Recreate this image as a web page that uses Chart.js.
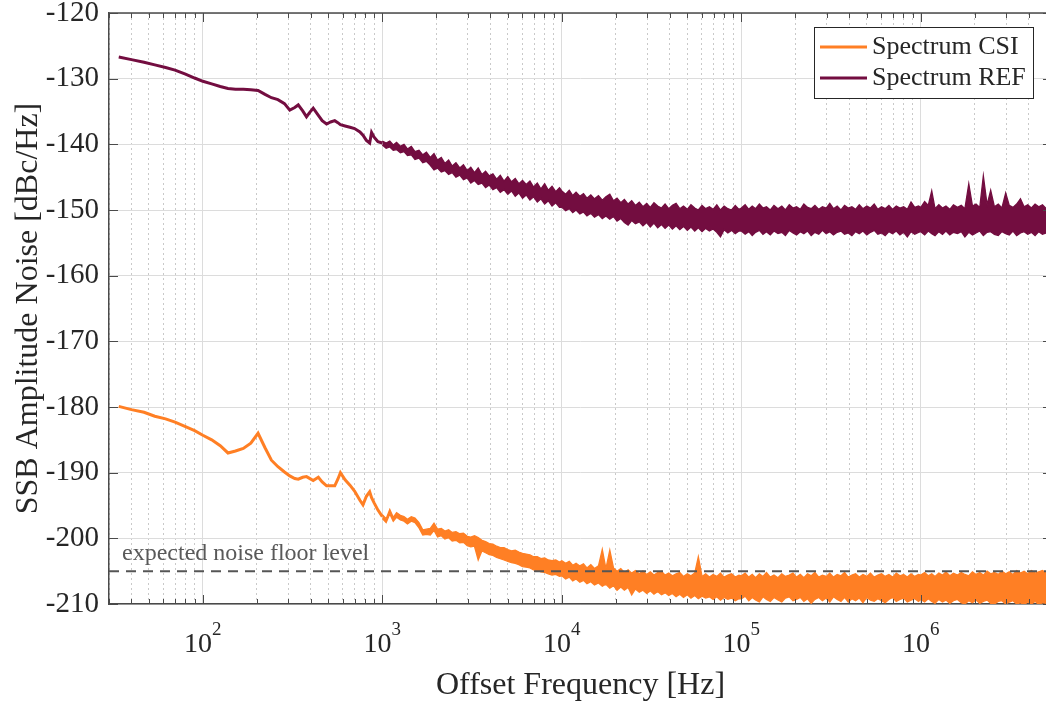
<!DOCTYPE html>
<html>
<head>
<meta charset="utf-8">
<title>SSB Amplitude Noise</title>
<script src="https://cdn.jsdelivr.net/npm/chart.js@4.4.1/dist/chart.umd.min.js"></script>
<style>
  html, body { margin: 0; padding: 0; background: #fff; overflow: hidden; }
  #wrap { width: 1060px; height: 704px; }
</style>
</head>
<body>
<div id="wrap"><canvas id="noiseChart" width="1060" height="704"></canvas></div>
<script>
// values (offset frequency in Hz, noise in dBc/Hz)

// smooth low-frequency part, drawn as a single trace
const traceFreqHz = [
  34, 40, 47, 54, 62, 70, 80, 90, 100, 112,
  125, 138, 152, 168, 185, 203, 222, 241, 262, 285,
  305, 325, 340, 360, 378, 395, 412, 440, 462, 489,
  515, 543, 565, 584, 620, 660, 700, 750, 780, 815,
  850, 871, 900, 945, 1000
];
const refTraceDb = [
  -126.7, -127.1, -127.5, -127.9, -128.3, -128.7, -129.3, -129.9, -130.4, -130.8,
  -131.2, -131.5, -131.6, -131.6, -131.7, -131.8, -132.4, -132.9, -133.2, -133.8,
  -134.8, -134.4, -134.0, -134.9, -135.8, -135.1, -134.5, -135.6, -136.4, -136.9,
  -136.6, -136.4, -136.7, -137.0, -137.2, -137.4, -137.6, -138.1, -138.6, -139.4,
  -139.8, -138.2, -138.9, -139.6, -139.8
];
const csiTraceDb = [
  -179.9, -180.4, -180.8, -181.4, -181.8, -182.3, -183.0, -183.6, -184.3, -185.0,
  -185.9, -187.0, -186.7, -186.3, -185.5, -184.0, -186.2, -188.1, -189.1, -189.9,
  -190.5, -190.9, -191.0, -190.7, -190.6, -190.9, -191.2, -190.7, -191.4, -192.0,
  -192.0, -192.0, -191.0, -190.0, -191.1, -191.9, -192.8, -194.2, -194.9, -193.6,
  -192.9, -193.8, -194.6, -195.7, -196.7
];

// noisy part above 1 kHz: upper and lower edge of the band
const bandFreqHz = [
  1000, 1050, 1100, 1150, 1200, 1260, 1320, 1380, 1450, 1520,
  1600, 1680, 1760, 1850, 1940, 2030, 2130, 2230, 2340, 2450,
  2570, 2700, 2830, 2970, 3110, 3260, 3420, 3590, 3760, 3940,
  4130, 4330, 4540, 4760, 5000, 5240, 5500, 5760, 6040, 6330,
  6640, 6960, 7300, 7650, 8020, 8410, 8820, 9250, 9700,
  10000, 10500, 11000, 11500, 12000, 12600, 13200, 13800, 14500, 15200,
  16000, 16800, 17600, 18500, 19400, 20300, 21300, 22300, 23400, 24500,
  25700, 27000, 28300, 29700, 31100, 32600, 34200, 35900, 37600, 39400,
  41300, 43300, 45400, 47600, 50000, 52400, 55000, 57600, 60400, 63300,
  66400, 69600, 73000, 76500, 80200, 84100, 88200, 92500, 97000,
  100000, 105000, 110000, 115000, 120000, 126000, 132000, 138000, 145000, 152000,
  160000, 168000, 176000, 185000, 194000, 203000, 213000, 223000, 234000, 245000,
  257000, 270000, 283000, 297000, 311000, 326000, 342000, 359000, 376000, 394000,
  413000, 433000, 454000, 476000, 500000, 524000, 550000, 576000, 604000, 633000,
  664000, 696000, 730000, 765000, 802000, 841000, 882000, 925000, 970000,
  1.00e6, 1.05e6, 1.10e6, 1.15e6, 1.20e6, 1.26e6, 1.32e6, 1.38e6, 1.45e6, 1.52e6,
  1.60e6, 1.68e6, 1.76e6, 1.85e6, 1.94e6, 2.03e6, 2.13e6, 2.23e6, 2.34e6, 2.45e6,
  2.57e6, 2.70e6, 2.83e6, 2.97e6, 3.11e6, 3.26e6, 3.42e6, 3.59e6, 3.76e6, 3.94e6,
  4.13e6, 4.33e6, 4.54e6, 4.76e6, 5.00e6, 5.24e6, 5.50e6
];

const refUpperDb = [
  -139.5, -139.8, -139.5, -140.1, -139.7, -140.3, -140.0, -140.7, -140.3, -141.1,
  -140.9, -141.6, -141.2, -142.0, -141.4, -142.4, -142.0, -142.9, -142.4, -143.3,
  -142.8, -143.6, -143.1, -144.0, -143.5, -144.3, -143.6, -144.6, -144.1, -144.8,
  -144.5, -145.3, -144.7, -145.6, -144.9, -145.7, -145.2, -146.0, -145.5, -146.1,
  -145.6, -146.5, -145.9, -146.8, -146.0, -147.0, -146.4, -147.2, -146.6,
  -147.1, -147.6, -147.0, -147.8, -147.3, -147.9, -147.5, -148.2, -147.7, -148.3,
  -147.8, -148.5, -148.0, -147.6, -148.6, -148.2, -148.9, -148.4, -149.1, -148.6,
  -149.3, -148.8, -149.5, -149.0, -149.6, -148.9, -149.4, -149.7, -149.1, -149.8,
  -149.3, -149.0, -149.8, -149.4, -149.9, -149.2, -149.7, -150.0, -149.3, -149.8,
  -149.5, -149.9, -149.2, -150.0, -149.4, -149.8, -150.0, -149.3, -149.9,
  -149.7, -149.2, -149.9, -149.4, -149.8, -149.1, -149.7, -149.5, -150.0, -149.3,
  -149.8, -149.4, -150.0, -149.2, -149.7, -149.5, -149.9, -149.1, -149.6, -149.8,
  -149.3, -149.9, -149.5, -149.7, -149.0, -149.8, -149.4, -150.0, -149.3, -149.7,
  -149.5, -149.9, -149.2, -149.8, -149.4, -149.7, -149.1, -149.9, -149.5, -149.8,
  -149.3, -149.9, -149.4, -149.7, -149.5, -149.9, -148.8, -149.6, -149.4,
  -149.6, -148.7, -149.3, -147.1, -149.8, -149.2, -149.7, -149.4, -149.9, -149.2,
  -149.6, -149.3, -149.8, -146.0, -149.4, -149.1, -149.6, -144.8, -149.2, -147.0,
  -149.5, -149.1, -149.7, -147.4, -149.3, -149.6, -149.1, -148.3, -149.5, -149.2,
  -149.7, -149.1, -149.5, -149.2, -149.8, -149.3, -149.5
];
const refLowerDb = [
  -140.1, -140.6, -140.4, -140.9, -140.8, -141.3, -141.1, -141.7, -141.6, -142.3,
  -142.1, -142.8, -142.6, -143.2, -143.9, -143.6, -144.2, -144.0, -144.6, -144.3,
  -145.0, -144.7, -145.4, -145.1, -145.9, -145.5, -146.1, -145.9, -146.6, -146.2,
  -146.9, -146.6, -147.3, -146.9, -147.6, -147.1, -147.9, -147.4, -148.2, -147.7,
  -148.5, -148.0, -148.8, -148.3, -149.1, -148.6, -149.4, -148.9, -149.6,
  -149.6, -150.1, -149.8, -150.4, -150.0, -150.6, -150.3, -150.9, -150.5, -151.1,
  -150.7, -151.3, -150.9, -151.4, -151.0, -151.7, -151.3, -151.9, -152.3, -151.6,
  -152.1, -151.8, -152.4, -151.9, -152.6, -152.0, -152.7, -152.2, -152.8, -152.3,
  -152.9, -152.4, -153.0, -152.5, -153.1, -152.6, -153.2, -152.7, -153.3, -152.8,
  -153.2, -152.9, -153.4, -154.1, -153.0, -153.5, -153.1, -153.6, -153.2,
  -153.2, -153.7, -153.3, -153.9, -153.4, -153.1, -153.7, -153.3, -153.8, -153.2,
  -153.6, -153.4, -153.9, -153.1, -153.5, -153.8, -153.3, -153.6, -153.2, -153.9,
  -153.4, -153.7, -153.1, -153.6, -153.3, -153.8, -153.4, -153.2, -153.7, -153.5,
  -153.9, -153.3, -153.6, -153.2, -153.8, -153.4, -153.1, -153.7, -153.5, -153.9,
  -153.3, -153.6, -153.2, -153.8, -153.4, -154.1, -153.3, -153.7, -153.4,
  -153.3, -153.8, -153.2, -153.6, -153.9, -153.3, -153.7, -153.2, -153.8, -153.4,
  -153.6, -153.3, -154.1, -153.4, -153.8, -153.5, -153.2, -153.9, -153.4, -153.3,
  -153.7, -153.9, -153.3, -153.6, -153.8, -153.2, -153.9, -153.5, -153.3, -153.7,
  -153.4, -153.9, -153.3, -153.7, -153.5, -153.9, -153.4
];

const csiUpperDb = [
  -196.4, -197.0, -195.6, -196.8, -196.1, -196.5, -196.7, -197.1, -196.7, -196.9,
  -197.6, -198.7, -198.6, -198.5, -197.7, -198.6, -198.5, -198.9, -198.7, -199.1,
  -199.0, -199.3, -199.2, -199.7, -199.8, -199.6, -199.9, -200.3, -200.5, -200.8,
  -200.9, -201.2, -201.4, -201.4, -201.7, -201.9, -201.8, -202.1, -202.3, -202.4,
  -202.5, -202.8, -202.8, -203.1, -203.0, -203.3, -203.4, -203.3, -203.6,
  -203.4, -203.8, -203.5, -204.1, -203.8, -204.2, -203.9, -204.5, -204.0, -204.6,
  -204.2, -201.7, -204.6, -201.8, -204.5, -205.0, -204.6, -205.2, -204.8, -205.3,
  -204.9, -205.4, -205.0, -205.5, -205.1, -205.6, -205.2, -205.0, -205.6, -205.3,
  -205.7, -205.4, -205.2, -205.8, -205.4, -205.7, -205.3, -202.8, -205.8, -205.4,
  -205.9, -205.5, -205.8, -205.3, -205.9, -205.6, -205.4, -205.9, -205.6,
  -205.7, -205.3, -205.9, -205.5, -206.0, -205.4, -205.8, -205.2, -205.9, -205.6,
  -206.0, -205.4, -205.8, -205.6, -205.3, -205.9, -205.5, -206.0, -205.4, -205.7,
  -205.2, -205.9, -205.6, -205.8, -205.3, -205.9, -205.5, -205.7, -205.2, -205.9,
  -205.6, -205.4, -205.9, -205.5, -205.8, -205.3, -205.9, -205.6, -205.4, -205.8,
  -205.5, -205.9, -205.3, -205.7, -205.5, -205.9, -205.4, -205.8, -205.5,
  -205.6, -205.2, -205.7, -205.4, -205.8, -205.3, -205.6, -205.1, -205.7, -205.3,
  -205.6, -205.2, -205.5, -205.7, -205.1, -205.5, -205.2, -205.6, -205.0, -205.4,
  -205.2, -205.5, -205.0, -205.4, -205.1, -205.5, -204.9, -205.3, -205.0, -205.4,
  -204.9, -205.3, -205.1, -204.9, -205.3, -205.0, -205.2
];
const csiLowerDb = [
  -197.0, -197.6, -196.3, -197.4, -196.8, -197.2, -197.4, -197.8, -197.4, -197.6,
  -198.4, -199.5, -199.4, -199.5, -198.8, -199.8, -199.6, -200.1, -199.9, -200.4,
  -200.3, -200.7, -200.6, -201.1, -201.3, -201.2, -203.3, -201.9, -202.2, -202.5,
  -202.6, -202.9, -203.1, -203.3, -203.5, -203.7, -203.8, -204.0, -204.3, -204.4,
  -204.5, -204.8, -204.9, -205.1, -205.2, -205.4, -205.6, -205.5, -205.8,
  -205.7, -206.2, -205.9, -206.5, -206.2, -206.7, -206.4, -206.9, -206.6, -207.1,
  -206.8, -207.3, -207.0, -207.6, -207.2, -207.9, -207.4, -207.9, -207.5, -208.6,
  -207.7, -208.2, -207.9, -208.4, -208.0, -208.5, -208.1, -208.6, -208.3, -208.7,
  -208.4, -208.9, -208.5, -209.0, -208.6, -209.1, -208.7, -209.2, -208.8, -209.1,
  -208.9, -209.3, -208.9, -209.4, -209.0, -209.3, -209.1, -209.5, -209.2,
  -209.2, -208.8, -209.5, -209.0, -209.4, -209.7, -208.9, -209.3, -209.6, -209.0,
  -209.4, -209.7, -209.1, -208.9, -209.5, -209.3, -209.0, -209.6, -209.2, -209.9,
  -209.3, -209.0, -209.5, -209.1, -209.7, -208.9, -209.3, -209.6, -209.0, -209.7,
  -209.2, -209.5, -209.1, -209.8, -209.0, -209.4, -209.6, -209.2, -209.5, -209.8,
  -209.3, -209.0, -209.6, -209.3, -209.1, -209.7, -209.4, -209.2, -209.6,
  -209.3, -209.7, -209.2, -209.6, -209.9, -209.3, -209.7, -209.4, -209.9, -209.5,
  -209.3, -209.8, -210.0, -209.5, -209.8, -209.4, -209.9, -209.6, -209.4, -209.9,
  -210.0, -209.6, -209.5, -210.0, -209.7, -209.5, -210.0, -209.8, -210.1, -209.7,
  -210.0, -209.6, -210.1, -209.8, -209.9, -210.1, -209.8
];

const noiseFloorDb = -205;
const yTicks = [-210, -200, -190, -180, -170, -160, -150, -140, -130, -120];
const xMajorTicks = [100, 1000, 10000, 100000, 1000000];
const xMajorExponents = ['2', '3', '4', '5', '6'];

const csiColor = '#ff7f24';
const refColor = '#730d40';
const axisColor = '#4a4a4a';
const textColor = '#262626';
const serif = '"Liberation Serif", "Times New Roman", serif';

// 1..9 x 10^n grid positions for the log axis
const xGridTicks = [];
for (let d = 10; d <= 1e6; d *= 10) {
    for (let m = 1; m <= 9; m++) {
        const v = m * d;
        if (v >= 30 && v <= 5.38e6) xGridTicks.push(v);
    }
}

const zip = (xs, ys) => xs.map((f, i) => ({ x: f, y: ys[i] }));

// box top edge, inward tick marks, 10^n labels, legend box and the floor annotation
const matlabFrame = {
    id: 'matlabFrame',
    afterDraw(chart) {
        const { ctx, chartArea: a, scales: { x, y } } = chart;
        ctx.save();
        ctx.strokeStyle = axisColor;
        ctx.lineWidth = 1.5;
        ctx.beginPath();
        ctx.moveTo(a.left, a.top);
        ctx.lineTo(a.right, a.top);
        ctx.stroke();

        ctx.lineWidth = 1;
        ctx.beginPath();
        xGridTicks.forEach(v => {
            const px = Math.round(x.getPixelForValue(v)) + 0.5;
            const len = xMajorTicks.includes(v) ? 9 : 5;
            ctx.moveTo(px, a.bottom); ctx.lineTo(px, a.bottom - len);
            ctx.moveTo(px, a.top); ctx.lineTo(px, a.top + len);
        });
        yTicks.forEach(v => {
            const py = Math.round(y.getPixelForValue(v)) + 0.5;
            ctx.moveTo(a.left, py); ctx.lineTo(a.left + 9, py);
            ctx.moveTo(a.right, py); ctx.lineTo(a.right - 9, py);
        });
        ctx.stroke();

        // x tick labels as 10 with a raised exponent
        ctx.fillStyle = textColor;
        ctx.textAlign = 'left';
        ctx.textBaseline = 'alphabetic';
        xMajorTicks.forEach((v, i) => {
            const px = x.getPixelForValue(v);
            ctx.font = '28px ' + serif;
            const w1 = ctx.measureText('10').width;
            ctx.font = '19px ' + serif;
            const w2 = ctx.measureText(xMajorExponents[i]).width;
            const left = px - (w1 + w2) / 2;
            ctx.font = '28px ' + serif;
            ctx.fillText('10', left, a.bottom + 48);
            ctx.font = '19px ' + serif;
            ctx.fillText(xMajorExponents[i], left + w1, a.bottom + 31);
        });

        // annotation above the dashed floor line
        ctx.fillStyle = '#595959';
        ctx.font = '24px ' + serif;
        ctx.fillText('expected noise floor level', a.left + 13, y.getPixelForValue(noiseFloorDb) - 11);

        // legend
        const lx = a.right - 238, ly = a.top + 14, lw = 219, lh = 71;
        ctx.fillStyle = '#fff';
        ctx.fillRect(lx, ly, lw, lh);
        ctx.strokeStyle = '#262626';
        ctx.lineWidth = 1;
        ctx.strokeRect(lx + 0.5, ly + 0.5, lw, lh);
        const items = [['Spectrum CSI', csiColor], ['Spectrum REF', refColor]];
        ctx.font = '26px ' + serif;
        ctx.textBaseline = 'middle';
        items.forEach(([label, color], i) => {
            const ry = ly + 20 + i * 31;
            ctx.strokeStyle = color;
            ctx.lineWidth = 3;
            ctx.beginPath();
            ctx.moveTo(lx + 6, ry); ctx.lineTo(lx + 53, ry);
            ctx.stroke();
            ctx.fillStyle = textColor;
            ctx.fillText(label, lx + 58, ry);
        });
        ctx.restore();
    }
};

Chart.defaults.font.family = serif;
Chart.defaults.color = textColor;

const traceStyle = color => ({ borderColor: color, borderWidth: 3, pointRadius: 0, tension: 0, fill: false });
const edgeStyle = color => ({ borderColor: color, backgroundColor: color, borderWidth: 1.3, pointRadius: 0, tension: 0 });

new Chart(document.getElementById('noiseChart'), {
    type: 'line',
    data: {
        datasets: [
            {
                label: 'expected noise floor level',
                data: [{ x: 30, y: noiseFloorDb }, { x: 5.5e6, y: noiseFloorDb }],
                borderColor: '#555555',
                borderWidth: 2,
                borderDash: [10, 7],
                pointRadius: 0,
                fill: false
            },
            { label: 'Spectrum CSI', data: zip(traceFreqHz, csiTraceDb), ...traceStyle(csiColor) },
            { label: 'CSI upper', data: zip(bandFreqHz, csiUpperDb), ...edgeStyle(csiColor), fill: false },
            { label: 'CSI lower', data: zip(bandFreqHz, csiLowerDb), ...edgeStyle(csiColor), fill: 2 },
            { label: 'Spectrum REF', data: zip(traceFreqHz, refTraceDb), ...traceStyle(refColor) },
            { label: 'REF upper', data: zip(bandFreqHz, refUpperDb), ...edgeStyle(refColor), fill: false },
            { label: 'REF lower', data: zip(bandFreqHz, refLowerDb), ...edgeStyle(refColor), fill: 5 }
        ]
    },
    options: {
        responsive: false,
        devicePixelRatio: 1,
        animation: false,
        events: [],
        layout: { padding: { top: 13, right: 8, left: 0, bottom: 0 } },
        plugins: {
            legend: { display: false },
            tooltip: { enabled: false }
        },
        scales: {
            x: {
                type: 'logarithmic',
                min: 30,
                max: 5.38e6,
                afterBuildTicks: s => { s.ticks = xGridTicks.map(v => ({ value: v, major: xMajorTicks.includes(v) })); },
                afterFit: s => { s.height = 100; s.paddingLeft = 0; s.paddingRight = 0; },
                ticks: { display: false, autoSkip: false },
                grid: {
                    drawTicks: false,
                    color: c => (c.tick && xMajorTicks.includes(c.tick.value)) ? '#dcdcdc' : '#c9c9c9',
                    lineWidth: 1
                },
                border: {
                    color: axisColor,
                    width: 1.5,
                    dash: c => (c.tick && !xMajorTicks.includes(c.tick.value)) ? [2, 3] : []
                },
                title: {
                    display: true,
                    text: 'Offset Frequency [Hz]',
                    font: { size: 32, lineHeight: 1 },
                    padding: { top: 0, bottom: 2 }
                }
            },
            y: {
                min: -210,
                max: -120,
                afterBuildTicks: s => { s.ticks = yTicks.map(v => ({ value: v })); },
                afterFit: s => { s.width = 109; s.paddingTop = 0; s.paddingBottom = 0; },
                ticks: {
                    padding: 10,
                    font: { size: 29 },
                    callback: v => String(v)
                },
                grid: { drawTicks: false, color: '#dcdcdc', lineWidth: 1 },
                border: { color: axisColor, width: 1.5 },
                title: {
                    display: true,
                    text: 'SSB Amplitude Noise [dBc/Hz]',
                    font: { size: 32, lineHeight: 1 },
                    padding: { top: 13, bottom: 0 }
                }
            }
        }
    },
    plugins: [matlabFrame]
});
</script>
</body>
</html>
